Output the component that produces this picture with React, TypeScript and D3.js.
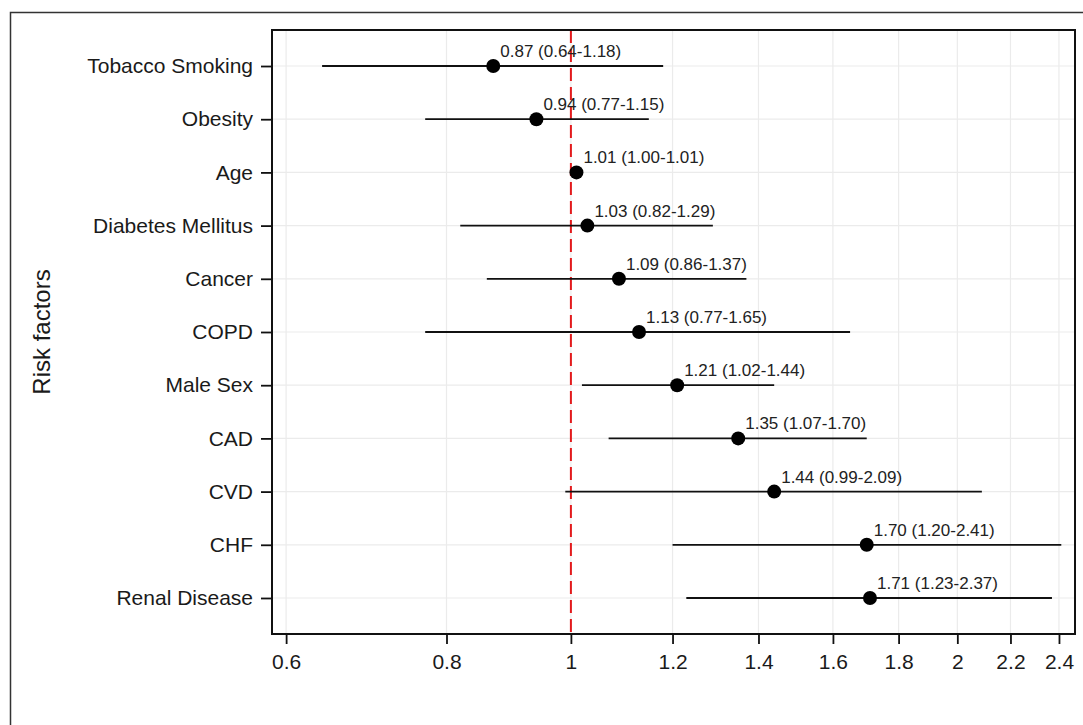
import React, { useRef, useEffect } from "react";
import * as d3 from "d3";

// risk factor rows, top to bottom
const factors = [
	"Tobacco Smoking",
	"Obesity",
	"Age",
	"Diabetes Mellitus",
	"Cancer",
	"COPD",
	"Male Sex",
	"CAD",
	"CVD",
	"CHF",
	"Renal Disease",
];
const hazard = [0.87, 0.94, 1.01, 1.03, 1.09, 1.13, 1.21, 1.35, 1.44, 1.7, 1.71];
const lower = [0.64, 0.77, 1.0, 0.82, 0.86, 0.77, 1.02, 1.07, 0.99, 1.2, 1.23];
const upper = [1.18, 1.15, 1.01, 1.29, 1.37, 1.65, 1.44, 1.7, 2.09, 2.41, 2.37];
const xTicks = [0.6, 0.8, 1, 1.2, 1.4, 1.6, 1.8, 2, 2.2, 2.4];
const xTickLabels = ["0.6", "0.8", "1", "1.2", "1.4", "1.6", "1.8", "2", "2.2", "2.4"];

const W = 1083;
const H = 725;
const FONT = "'Liberation Sans', Arial, Helvetica, sans-serif";

const App = () => {
	const svgRef = useRef<SVGSVGElement>(null);

	useEffect(() => {
		const svg = d3.select(svgRef.current);
		svg.selectAll("*").remove();

		const plot = { left: 272, right: 1075, top: 30, bottom: 634 };

		const x = d3
			.scaleLog()
			.domain([0.585, 2.47])
			.range([plot.left, plot.right]);

		const y = d3
			.scalePoint()
			.domain(factors)
			.range([plot.top, plot.bottom])
			.padding(0.677);

		const rows = factors.map((f, i) => ({
			name: f,
			hr: hazard[i],
			lo: lower[i],
			hi: upper[i],
		}));

		svg.append("rect")
			.attr("width", W)
			.attr("height", H)
			.attr("fill", "white");

		// outer frame (runs off the right and bottom)
		svg.append("rect")
			.attr("x", 10.5)
			.attr("y", 12.5)
			.attr("width", W + 20)
			.attr("height", H + 20)
			.attr("fill", "none")
			.attr("stroke", "#333")
			.attr("stroke-width", 1.5);

		// grid
		const grid = svg.append("g").attr("stroke", "#ebebeb").attr("stroke-width", 1.2);
		grid.selectAll("line.v")
			.data(xTicks)
			.join("line")
			.attr("class", "v")
			.attr("x1", (d) => x(d))
			.attr("x2", (d) => x(d))
			.attr("y1", plot.top)
			.attr("y2", plot.bottom);
		grid.selectAll("line.h")
			.data(factors)
			.join("line")
			.attr("class", "h")
			.attr("x1", plot.left)
			.attr("x2", plot.right)
			.attr("y1", (d) => y(d))
			.attr("y2", (d) => y(d));

		// reference line at HR = 1
		svg.append("line")
			.attr("x1", x(1))
			.attr("x2", x(1))
			.attr("y1", plot.top)
			.attr("y2", plot.bottom)
			.attr("stroke", "#e31a1c")
			.attr("stroke-width", 2)
			.attr("stroke-dasharray", "13,6");

		// confidence intervals
		svg.append("g")
			.selectAll("line")
			.data(rows)
			.join("line")
			.attr("x1", (d) => x(d.lo))
			.attr("x2", (d) => x(d.hi))
			.attr("y1", (d) => y(d.name))
			.attr("y2", (d) => y(d.name))
			.attr("stroke", "#111")
			.attr("stroke-width", 1.8);

		svg.append("g")
			.selectAll("circle")
			.data(rows)
			.join("circle")
			.attr("cx", (d) => x(d.hr))
			.attr("cy", (d) => y(d.name))
			.attr("r", 7)
			.attr("fill", "#000");

		svg.append("g")
			.selectAll("text")
			.data(rows)
			.join("text")
			.attr("x", (d) => x(d.hr) + 7)
			.attr("y", (d) => y(d.name) - 9)
			.attr("font-family", FONT)
			.attr("font-size", 17)
			.attr("fill", "#222")
			.text((d) => `${d.hr.toFixed(2)} (${d.lo.toFixed(2)}-${d.hi.toFixed(2)})`);

		// panel border
		svg.append("rect")
			.attr("x", plot.left)
			.attr("y", plot.top)
			.attr("width", plot.right - plot.left)
			.attr("height", plot.bottom - plot.top)
			.attr("fill", "none")
			.attr("stroke", "#111")
			.attr("stroke-width", 2);

		// x axis
		const gx = svg.append("g").attr("transform", `translate(0,${plot.bottom})`);
		gx.call(
			d3
				.axisBottom(x)
				.tickValues(xTicks)
				.tickFormat((d, i) => xTickLabels[i])
				.tickSize(10)
				.tickPadding(10)
		);
		gx.select(".domain").remove();
		gx.selectAll("line").attr("stroke", "#111").attr("stroke-width", 1.8);
		gx.selectAll("text")
			.attr("font-family", FONT)
			.attr("font-size", 21)
			.attr("fill", "#1a1a1a");

		// y axis
		const gy = svg.append("g").attr("transform", `translate(${plot.left},0)`);
		gy.call(d3.axisLeft(y).tickSize(11).tickPadding(8));
		gy.select(".domain").remove();
		gy.selectAll("line").attr("stroke", "#111").attr("stroke-width", 1.8);
		gy.selectAll("text")
			.attr("font-family", FONT)
			.attr("font-size", 21)
			.attr("fill", "#1a1a1a");

		svg.append("text")
			.attr("transform", `translate(50,${(plot.top + plot.bottom) / 2}) rotate(-90)`)
			.attr("text-anchor", "middle")
			.attr("font-family", FONT)
			.attr("font-size", 24)
			.attr("fill", "#1a1a1a")
			.text("Risk factors");
	}, []);

	return (
		<div style={{ position: "absolute", left: 0, top: 0, width: W, height: H }}>
			<svg ref={svgRef} width={W} height={H} style={{ display: "block" }} />
		</div>
	);
};

export default App;
